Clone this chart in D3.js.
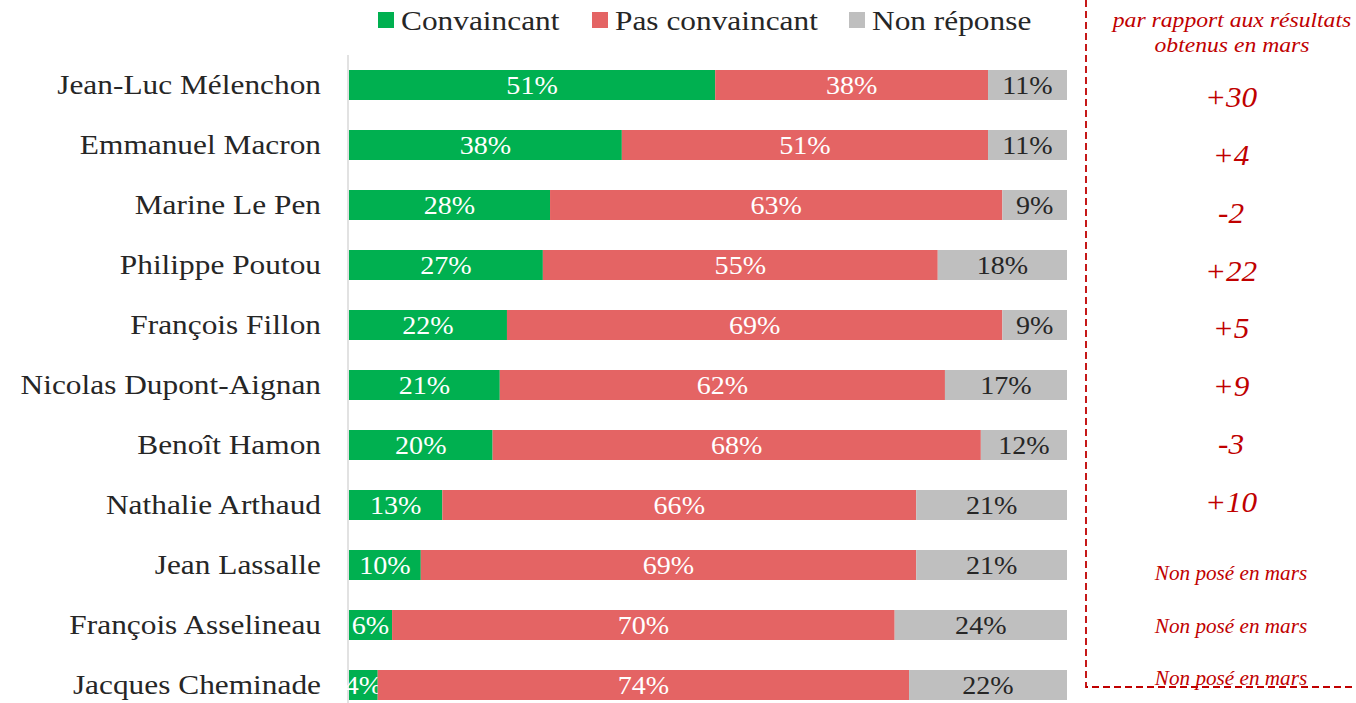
<!DOCTYPE html>
<html>
<head>
<meta charset="utf-8">
<script src="https://cdn.jsdelivr.net/npm/d3@7"></script>
<style>
  body { margin: 0; background: #fff; }
  svg text { font-family: "Liberation Serif", "DejaVu Serif", serif; }
</style>
</head>
<body>
<div id="chart"></div>
<script>
// candidats, du haut vers le bas
var candidats = ["Jean-Luc Mélenchon", "Emmanuel Macron", "Marine Le Pen", "Philippe Poutou",
  "François Fillon", "Nicolas Dupont-Aignan", "Benoît Hamon", "Nathalie Arthaud",
  "Jean Lassalle", "François Asselineau", "Jacques Cheminade"];
var convaincant    = [51, 38, 28, 27, 22, 21, 20, 13, 10, 6, 4];
var pasConvaincant = [38, 51, 63, 55, 69, 62, 68, 66, 69, 70, 74];
var nonReponse     = [11, 11, 9, 18, 9, 17, 12, 21, 21, 24, 22];
var evolution = ["+30", "+4", "-2", "+22", "+5", "+9", "-3", "+10",
  "Non posé en mars", "Non posé en mars", "Non posé en mars"];
var series = ["Convaincant", "Pas convaincant", "Non réponse"];
var colors = ["#00b050", "#e46464", "#bfbfbf"];
var noteLines = ["par rapport aux résultats", "obtenus en mars"];

var w = 1356, h = 703
  , marginLeft = 349, marginTop = 55, chartRight = 1067, chartBottom = 715;
var sx = 1.12; // élargit la police (pas de Palatino ici)

var svg = d3.select("#chart").append("svg")
  .attr("width", w).attr("height", h);

var rows = candidats.map(function(c, i) {
  return {name: c, vals: [convaincant[i], pasConvaincant[i], nonReponse[i]], evo: evolution[i]};
});

var x = d3.scaleLinear().domain([0, 100]).range([marginLeft, chartRight]);
var y = d3.scaleBand().domain(candidats).range([marginTop, chartBottom]).paddingInner(0.5).paddingOuter(0.25);

function place(px, py, s) {
  return "translate(" + px + "," + py + ") scale(" + (s || sx) + ",1)";
}

// axe vertical
svg.append("line")
  .attr("x1", marginLeft - 1).attr("x2", marginLeft - 1)
  .attr("y1", marginTop).attr("y2", h)
  .attr("stroke", "#d9d9d9").attr("stroke-width", 1.5);

// barres empilées
var stack = d3.stack().keys([0, 1, 2]).value(function(d, k) { return d.vals[k]; });
var layers = stack(rows);

var g = svg.append("g");
layers.forEach(function(layer, k) {
  g.selectAll(".bar" + k)
    .data(layer)
    .enter().append("rect")
    .attr("x", function(d) { return x(d[0]); })
    .attr("y", function(d) { return y(d.data.name); })
    .attr("width", function(d) { return x(d[1]) - x(d[0]); })
    .attr("height", y.bandwidth())
    .attr("fill", colors[k]);

  g.selectAll(".lab" + k)
    .data(layer)
    .enter().append("text")
    .attr("transform", function(d) {
      return place((x(d[0]) + x(d[1])) / 2, y(d.data.name) + y.bandwidth() / 2 + 9, 1.08);
    })
    .attr("text-anchor", "middle")
    .attr("font-size", 26)
    .attr("fill", k == 2 ? "#262626" : "#fff")
    .text(function(d) { return d.data.vals[k] + "%"; });
});

// noms des candidats
svg.selectAll(".name")
  .data(rows)
  .enter().append("text")
  .attr("transform", function(d) { return place(321, y(d.name) + y.bandwidth() / 2 + 9); })
  .attr("text-anchor", "end")
  .attr("font-size", 28)
  .attr("fill", "#262626")
  .text(function(d) { return d.name; });

// légende
var legendX = [378, 592, 849];
series.forEach(function(s, k) {
  svg.append("rect")
    .attr("x", legendX[k]).attr("y", 12)
    .attr("width", 16).attr("height", 16)
    .attr("fill", colors[k]);
  svg.append("text")
    .attr("transform", place(legendX[k] + 23, 30))
    .attr("font-size", 28)
    .attr("fill", "#262626")
    .text(s);
});

// cadre pointillé à droite
svg.append("path")
  .attr("d", "M1086,0 V687 H1356")
  .attr("fill", "none")
  .attr("stroke", "#c00000")
  .attr("stroke-width", 1.8)
  .attr("stroke-dasharray", "7,4");

svg.selectAll(".note")
  .data(noteLines)
  .enter().append("text")
  .attr("transform", function(d, i) { return place(1232, 27 + i * 25, 1.1); })
  .attr("text-anchor", "middle")
  .attr("font-size", 21.5)
  .attr("font-style", "italic")
  .attr("fill", "#c00000")
  .text(function(d) { return d; });

var evoY = d3.scaleLinear().domain([0, 7]).range([107, 512]);
var nonPoseY = d3.scaleLinear().domain([8, 10]).range([580, 685]);
svg.selectAll(".evo")
  .data(rows)
  .enter().append("text")
  .attr("transform", function(d, i) {
    return place(1231, i < 8 ? evoY(i) : nonPoseY(i), i < 8 ? 1.04 : 1.06);
  })
  .attr("text-anchor", "middle")
  .attr("font-size", function(d, i) { return i < 8 ? 30 : 20; })
  .attr("font-style", "italic")
  .attr("fill", "#c00000")
  .text(function(d) { return d.evo; });
</script>
</body>
</html>
